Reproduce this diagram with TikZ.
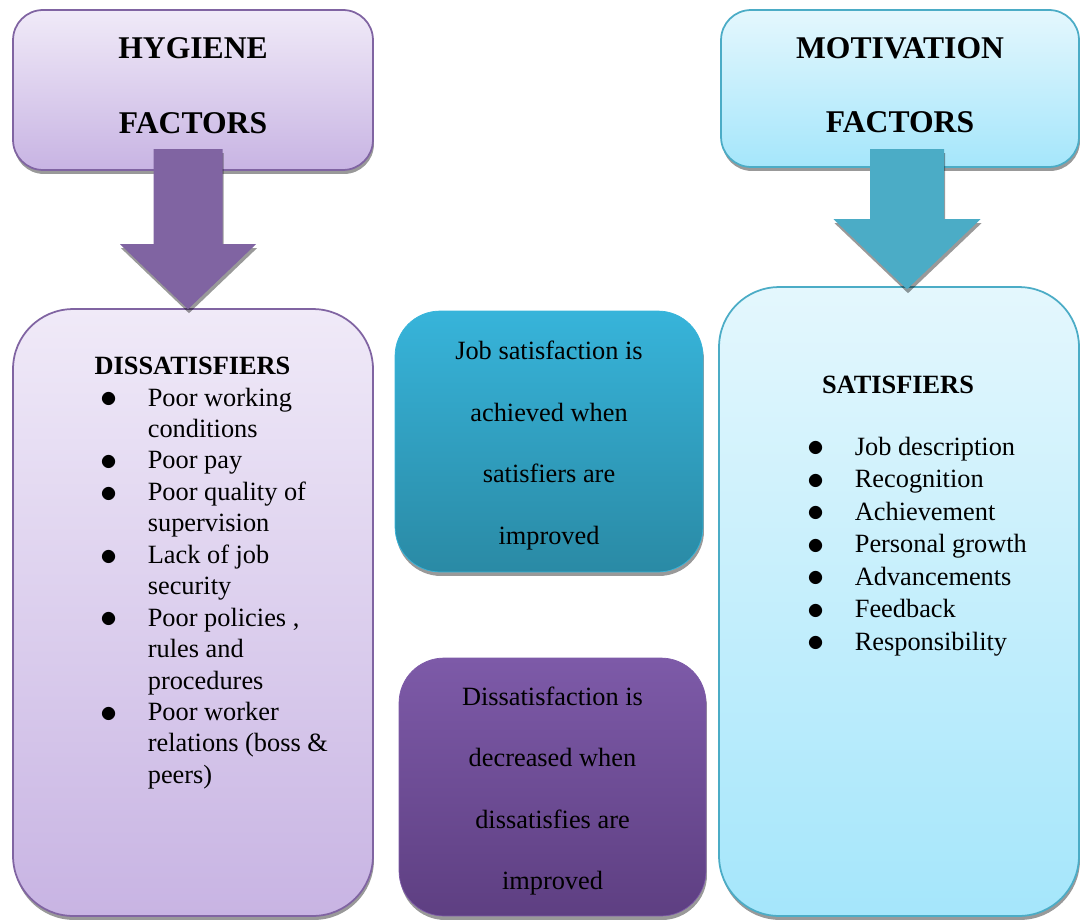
\documentclass[tikz,border=0pt]{standalone}
\usepackage{fontspec}
\usepackage{graphicx}
\setmainfont{Liberation Serif}
\usetikzlibrary{calc,shadows}
\definecolor{hygline}{HTML}{8064A2}
\definecolor{hygtop}{HTML}{F0EAF8}
\definecolor{hygbot}{HTML}{C8B4E3}
\definecolor{motline}{HTML}{4BACC6}
\definecolor{mottop}{HTML}{E4F7FD}
\definecolor{motbot}{HTML}{A5E6FB}
\definecolor{jobtop}{HTML}{37B4DA}
\definecolor{jobbot}{HTML}{2A8AA5}
\definecolor{dectop}{HTML}{7D5AA8}
\definecolor{decbot}{HTML}{5E3F82}
\tikzset{
  boxshadow/.style={drop shadow={shadow xshift=0.02cm,shadow yshift=-0.08cm,fill=black,opacity=.4}},
  hygbox/.style={draw=hygline,line width=1pt,top color=hygtop,bottom color=hygbot,boxshadow},
  motbox/.style={draw=motline,line width=1pt,top color=mottop,bottom color=motbot,boxshadow},
  headtext/.style={align=center,font=\bfseries\fontsize{18}{42.5}\selectfont},
  bodytext/.style={align=center,font=\fontsize{15}{35}\selectfont},
  listtext/.style={inner sep=0pt,font=\fontsize{15}{17.9}\selectfont},
}
\newcommand{\dotitem}{\makebox[0.95cm][l]{\raisebox{-1pt}{\scalebox{1.35}{$\bullet$}}}}
\newcommand{\dotskip}{\hspace*{0.95cm}}

\begin{document}
\begin{tikzpicture}[x=0.02cm,y=-0.02cm]
\useasboundingbox (0,0) rectangle (1081,919);

% top boxes
\node[hygbox,headtext,rounded corners=0.6cm,minimum width=7.2cm,minimum height=3.2cm]
  (hyg) at (193,90) {HYGIENE\\FACTORS\rule[-5pt]{0pt}{5pt}};
\node[motbox,headtext,rounded corners=0.6cm,minimum width=7.16cm,minimum height=3.14cm]
  (mot) at (900,88.5) {MOTIVATION\\FACTORS\rule[-4pt]{0pt}{4pt}};

% lists
\node[hygbox,rounded corners=1.2cm,minimum width=7.2cm,minimum height=12.14cm]
  (dis) at (193,612.5) {};
\node[motbox,rounded corners=1.2cm,minimum width=7.2cm,minimum height=12.58cm]
  (sat) at (899,601.5) {};

\node[listtext,anchor=base,font=\bfseries\fontsize{15}{17.9}\selectfont]
  (dishead) at (192.5,374) {DISSATISFIERS};
\node[listtext,anchor=base west] (dislist) at (100,406) {%
  \begin{tabular}[t]{@{}l@{}}
  \dotitem Poor working\\
  \dotskip conditions\\
  \dotitem Poor pay\\
  \dotitem Poor quality of\\
  \dotskip supervision\\
  \dotitem Lack of job\\
  \dotskip security\\
  \dotitem Poor policies ,\\
  \dotskip rules and\\
  \dotskip procedures\\
  \dotitem Poor worker\\
  \dotskip relations (boss \&\\
  \dotskip peers)
  \end{tabular}};

\node[listtext,anchor=base,font=\bfseries\fontsize{15}{17.9}\selectfont]
  (sathead) at (898,393) {SATISFIERS};
\node[listtext,anchor=base west,font=\fontsize{15}{18.5}\selectfont] (satlist) at (807,455) {%
  \begin{tabular}[t]{@{}l@{}}
  \dotitem Job description\\
  \dotitem Recognition\\
  \dotitem Achievement\\
  \dotitem Personal growth\\
  \dotitem Advancements\\
  \dotitem Feedback\\
  \dotitem Responsibility
  \end{tabular}};

% middle boxes
\node[draw=jobtop,top color=jobtop,bottom color=jobbot,boxshadow,bodytext,
  rounded corners=0.9cm,minimum width=6.16cm,minimum height=5.22cm]
  (job) at (549,441.5) {\rule{0pt}{15pt}Job satisfaction is\\achieved when\\satisfiers are\\improved};
\node[draw=dectop,top color=dectop,bottom color=decbot,boxshadow,bodytext,
  rounded corners=0.9cm,minimum width=6.14cm,minimum height=5.16cm]
  (dec) at (552.5,787) {\rule{0pt}{15pt}Dissatisfaction is\\decreased when\\dissatisfies are\\improved};

% block arrows
\coordinate (hygtip) at ($(dis.north)+(-5,1)$);
\coordinate (mottip) at ($(sat.north)+(8,3)$);
\fill[hygline,boxshadow] (hygtip) -- ++(-68,-65) -- ++(33.5,0) -- ++(0,-95)
  -- ++(69,0) -- ++(0,95) -- ++(33.5,0) -- cycle;
\fill[motline,boxshadow] (mottip) -- ++(-73.5,-70) -- ++(36.5,0) -- ++(0,-70)
  -- ++(74,0) -- ++(0,70) -- ++(36.5,0) -- cycle;

\end{tikzpicture}
\end{document}
